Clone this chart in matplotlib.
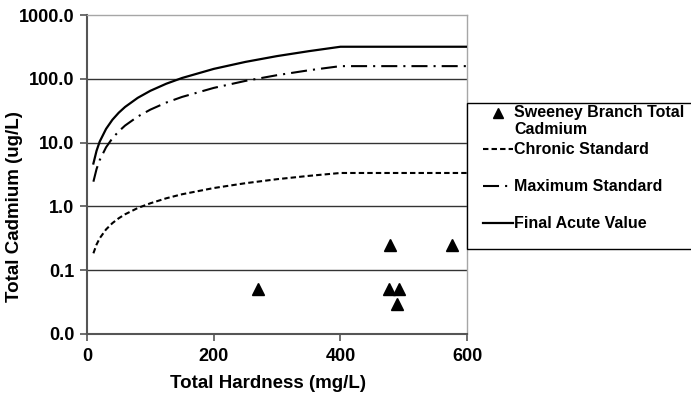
import matplotlib
matplotlib.use("Agg")
import matplotlib.pyplot as plt
from matplotlib.lines import Line2D
from matplotlib.patches import Rectangle

plt.rcParams['font.family'] = ['Liberation Sans', 'DejaVu Sans']
plt.rcParams['font.weight'] = 'bold'

# Hardness (mg/L) at which the standard curves are tabulated
hardness = [10, 15, 20, 30, 40, 50, 60, 80, 100, 125, 150, 200, 250, 300, 350, 400, 600]

# Cadmium criteria (ug/L) versus hardness
final_acute = [4.7, 7.46, 10.4, 16.4, 22.8, 29.4, 36.2, 50.3, 64.9, 83.7, 103, 143, 184, 227, 271, 318, 318]
maximum_std = [2.44, 3.86, 5.34, 8.44, 11.7, 15.0, 18.5, 25.6, 32.9, 42.4, 52.0, 72.0, 92.7, 114, 136, 158, 158]
chronic_std = [0.184, 0.253, 0.317, 0.436, 0.547, 0.652, 0.752, 0.943, 1.12, 1.34, 1.55, 1.94, 2.31, 2.67, 3.01, 3.34, 3.34]

# Sweeney Branch samples
sample_hardness = [270, 478, 576, 476, 492, 489]
sample_cadmium = [0.05, 0.25, 0.25, 0.05, 0.05, 0.03]

y_ticks = [0.01, 0.1, 1, 10, 100, 1000]
y_tick_labels = ["0.0", "0.1", "1.0", "10.0", "100.0", "1000.0"]
x_ticks = [0, 200, 400, 600]

fig = plt.figure(figsize=(6.91, 4.0), dpi=100)
ax = fig.add_axes([0.126, 0.165, 0.55, 0.7975])

chronic_style = (0, (2.6, 1.5))
maximum_style = (0, (7.7, 2.9, 1.0, 2.9))

ax.plot(hardness, chronic_std, color='black', lw=1.5, linestyle=chronic_style, zorder=3)
ax.plot(hardness, maximum_std, color='black', lw=1.5, linestyle=maximum_style, zorder=3)
ax.plot(hardness, final_acute, color='black', lw=1.6, zorder=3)
ax.plot(sample_hardness, sample_cadmium, linestyle='none', marker='^', markersize=8.5,
        color='black', zorder=4)

ax.set_yscale('log')
ax.set_ylim(0.01, 1000)
ax.set_xlim(0, 600)
ax.set_yticks(y_ticks)
ax.set_yticklabels(y_tick_labels)
ax.minorticks_off()
ax.set_xticks(x_ticks)
ax.tick_params(axis='both', labelsize=13, length=5, width=1.2, color='#555555', direction='out')
ax.tick_params(axis='y', pad=4)
ax.tick_params(axis='x', pad=5)

for y in [0.1, 1, 10, 100]:
    ax.axhline(y, color='#333333', lw=1.0, zorder=1)

for side in ['top', 'right']:
    ax.spines[side].set_color('#a6a6a6')
    ax.spines[side].set_linewidth(1.0)
for side in ['left', 'bottom']:
    ax.spines[side].set_color('#555555')
    ax.spines[side].set_linewidth(1.5)

ax.set_xlabel("Total Hardness (mg/L)", fontsize=13.5, fontweight='bold')
ax.set_ylabel("Total Cadmium (ug/L)", fontsize=13.5, fontweight='bold')
ax.xaxis.set_label_coords(0.476, -0.154)
ax.xaxis.label.set_verticalalignment('center')
ax.yaxis.set_label_coords(-0.19, 0.398)
ax.yaxis.label.set_verticalalignment('center')

# Legend panel to the right of the plot
fig.patches.append(Rectangle((0.676, 0.3775), 0.40, 0.365, transform=fig.transFigure,
                             facecolor='white', edgecolor='black', lw=1.0, zorder=5))

def fx(px):
    return px / 691.0

def fy(py):
    return 1 - py / 400.0

text_x = fx(514)
legend_font = 11.5
fig.add_artist(Line2D([fx(498)], [fy(113)], marker='^', markersize=7, color='black',
                      linestyle='none', transform=fig.transFigure, zorder=6))
fig.text(text_x, fy(121), "Sweeney Branch Total\nCadmium", fontsize=legend_font,
         fontweight='bold', va='center', ha='left', linespacing=1.15, zorder=6)
fig.add_artist(Line2D([fx(483), fx(513)], [fy(149), fy(149)], color='black', lw=1.5,
                      linestyle=chronic_style, transform=fig.transFigure, zorder=6))
fig.text(text_x, fy(149), "Chronic Standard", fontsize=legend_font, fontweight='bold',
         va='center', ha='left', zorder=6)
fig.add_artist(Line2D([fx(483), fx(513)], [fy(186), fy(186)], color='black', lw=1.5,
                      linestyle=maximum_style, transform=fig.transFigure, zorder=6))
fig.text(text_x, fy(186), "Maximum Standard", fontsize=legend_font, fontweight='bold',
         va='center', ha='left', zorder=6)
fig.add_artist(Line2D([fx(483), fx(513)], [fy(223), fy(223)], color='black', lw=1.6,
                      transform=fig.transFigure, zorder=6))
fig.text(text_x, fy(223), "Final Acute Value", fontsize=legend_font, fontweight='bold',
         va='center', ha='left', zorder=6)

fig.savefig("out.png", dpi=100)
